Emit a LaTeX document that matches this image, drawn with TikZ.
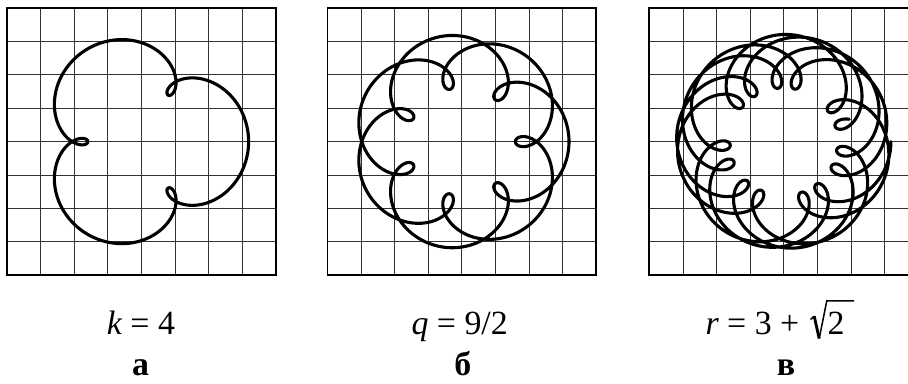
\documentclass[tikz,border=0pt]{standalone}
\usepackage{fontspec}
\setmainfont{Liberation Serif}
\tikzset{
  gridline/.style={line width=0.8bp, draw=black!80},
  frame/.style={line width=1.7bp, draw=black},
  curve/.style={line width=3.1bp, draw=black, line join=round, line cap=round},
  lbl/.style={font=\fontsize{34}{40}\selectfont, inner sep=0pt, text depth=0pt},
  sublbl/.style={font=\fontsize{34}{40}\selectfont\bfseries, inner sep=0pt, anchor=base, text depth=0pt},
  radthin/.style={line width=1.5bp, line join=miter, line cap=butt},
  radthick/.style={line width=2.9bp, line cap=butt},
}
\newcommand\gridpanel[1]{%
  \foreach \i in {1,...,7} {\draw[gridline] ({#1+\i*33.6},8) -- ({#1+\i*33.6},275.2);}
  \foreach \j in {1,...,7} {\draw[gridline] (#1,{8+\j*33.4}) -- ({#1+268.8},{8+\j*33.4});}
  \draw[frame] (#1,8) rectangle ({#1+268.8},275.2);
}
\begin{document}
\begin{tikzpicture}[x=1bp,y=-1bp]
\useasboundingbox (0,0) rectangle (908,383);
\clip (0,0) rectangle (908,383);
\fill[white] (0,0) rectangle (908,383);
% grids
\gridpanel{7}
\gridpanel{327.4}
\gridpanel{649.3}
% curves
\draw[curve] plot[domain=0:360, samples=500]
  ({141.4+80.4*cos(\x)+26.8*cos(4*\x)},{141.6+80.4*sin(\x)+26.8*sin(4*\x)});
\draw[curve] plot[domain=0:720, samples=1000]
  ({461.8+80.4*cos(\x)+26.8*cos(4.5*\x)},{141.6+80.4*sin(\x)+26.8*sin(4.5*\x)});
\draw[curve] plot[domain=0:1440, samples=2400]
  ({783.7+80.4*cos(\x)+26.8*cos(4.41421*\x)},{141.6+80.4*sin(\x)+26.8*sin(4.41421*\x)});
% formulas
\node[lbl, anchor=base] (ka) at (141,334) {{\itshape k} = 4};
\node[lbl, anchor=base] (qb) at (459.7,334) {{\itshape q} = 9/2};
\node[lbl, anchor=base east] (rc) at (799.5,334) {{\itshape r} = 3 +};
\node[lbl, anchor=base west] (two) at (827.3,334) {2};
% radical sign
\coordinate (r1) at (810.5,319.5);
\coordinate (r2) at (814.2,316.2);
\coordinate (r3) at (819.2,338.5);
\coordinate (r4) at (826.8,300.8);
\coordinate (r5) at (854.2,300.8);
\draw[radthin] (r1) -- (r2);
\draw[radthick] (r2) -- (r3);
\draw[radthin] (r3) -- (r4) -- (r5);
% sub-labels
\node[sublbl] (la) at (140.5,375.5) {а};
\node[sublbl] (lb) at (462.9,375.5) {б};
\node[sublbl] (lc) at (786,375.5) {в};
\end{tikzpicture}
\end{document}
